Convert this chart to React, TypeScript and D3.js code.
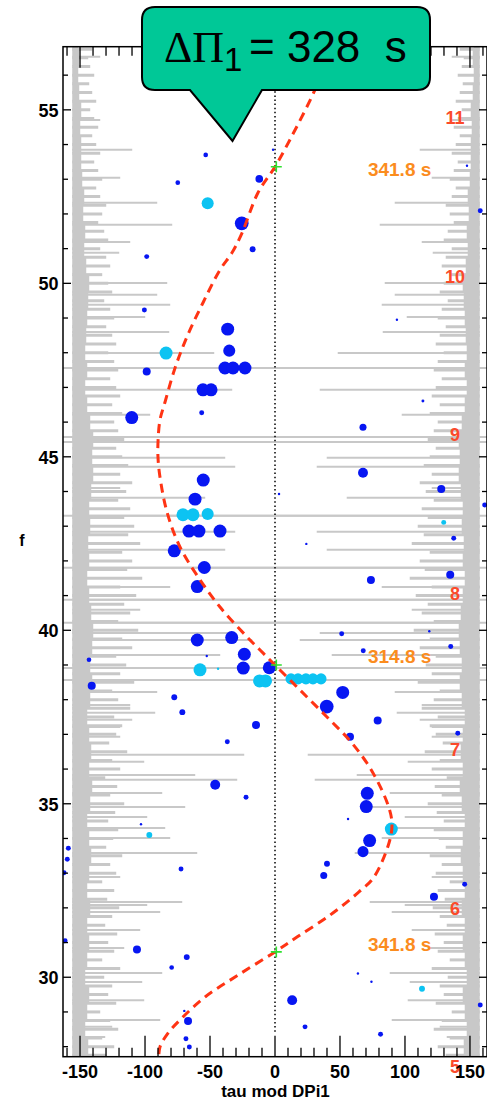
import React, { useEffect, useRef } from 'react'
import * as d3 from 'd3'

const WIDTH = 487
const HEIGHT = 1101
const frame = { left: 63, right: 487, top: 46.7, bottom: 1056.7 }

const tauRange: [number, number] = [-163.1, 163.1]
const freqRange: [number, number] = [27.71, 56.82]

const xMajorTicks = [-150, -100, -50, 0, 50, 100, 150]
const yMajorTicks = [30, 35, 40, 45, 50, 55]

// gray periodogram, drawn inwards from both walls of the frame
const coreStart = 27.5
const coreStep = 0.5
const coreLevel = [
    14, 16, 13, 15, 17, 13, 15, 17, 15, 18,
    15, 17, 19, 17, 15, 18, 20, 17, 19, 17,
    15, 18, 20, 18, 20, 21, 19, 17, 15, 17,
    16, 18, 17, 19, 21, 20, 21, 18, 15, 13,
    15, 13, 14, 15, 16, 17, 14, 12, 13, 11,
    12, 10, 9, 9, 8, 9, 7, 6, 7, 6,
]
const hatchStart = 27.75
const hatchStep = 0.25
const hatchLevel = [
    34, 42, 30, 46, 38, 28, 44, 36, 40, 32,
    48, 30, 42, 36, 45, 33, 40, 47, 35, 42,
    30, 44, 38, 50, 34, 41, 46, 36, 43, 52,
    38, 45, 33, 48, 40, 55, 37, 44, 50,
    42, 58, 46, 40, 62, 48, 54, 44, 60, 50,
    66, 46, 58, 52, 64, 48, 70, 55, 60, 50,
    68, 56, 62, 52, 58, 46, 54, 60, 48, 56,
    50, 44, 52, 46, 42, 50, 40, 48, 44, 38,
    46, 42, 36, 44, 40, 34, 42, 38, 32, 40,
    36, 30, 38, 34, 28, 36, 32, 26, 30, 34,
    28, 24, 30, 26, 22, 28, 24, 20, 26, 22,
    18, 24, 20, 17, 22, 18, 16, 20,
]
// [f, amplitude]
const peaks: [number, number][] = [
    [56.53, 28], [54.71, 28], [53.85, 60], [53.04, 48], [52.32, 85], [51.69, 100],
    [51.19, 58], [50.88, 47], [50.01, 95], [49.67, 85], [49.38, 98], [49.03, 73],
    [48.60, 97], [47.99, 142], [47.56, 420], [46.93, 160], [46.21, 78], [45.57, 420],
    [45.43, 420], [44.97, 153], [44.71, 163], [44.10, 48], [43.82, 133], [43.30, 420],
    [42.84, 163], [42.32, 153], [41.80, 420], [41.25, 98], [40.88, 420], [40.59, 68],
    [40.22, 420], [39.92, 160], [39.72, 180], [39.29, 148], [38.91, 420], [38.57, 420],
    [38.22, 85], [37.85, 58], [37.62, 83], [37.42, 60], [37.21, 48], [36.93, 48],
    [36.41, 172], [36.21, 72], [35.83, 123], [35.69, 165], [35.31, 90], [34.91, 113],
    [34.62, 75], [34.30, 93], [34.01, 98], [33.58, 125], [32.89, 48], [32.17, 110],
    [32.08, 75], [31.88, 88], [31.36, 68], [30.84, 52], [30.12, 90], [29.86, 70],
    [29.34, 72], [28.77, 88], [28.57, 40], [28.28, 33],
]

// model curve [tau, f]
const modelCurve: [number, number][] = [
    [45, 56.9], [30.8, 55.58], [11.5, 54.14], [0, 53.36], [-13.1, 52.61], [-25.4, 51.45],
    [-33.1, 50.88], [-42.3, 50.39], [-55.4, 49.44], [-67.7, 48.46], [-76.9, 47.56],
    [-84.6, 46.58], [-88.5, 46.06], [-90, 45.43], [-90, 44.97], [-88.5, 44.42],
    [-83.1, 43.41], [-73.1, 42.4], [-59.2, 41.54], [-42.3, 40.67], [-21.5, 39.81],
    [-11.5, 39.43], [0, 39.0], [19.2, 38.28], [40, 37.5], [59.2, 36.75], [75.4, 35.89],
    [87.7, 34.88], [90, 34.39], [87.7, 33.87], [76.2, 32.89], [64.6, 32.46], [42.3, 31.79],
    [16.9, 31.16], [0, 30.73], [-28.5, 30.06], [-53.8, 29.43], [-73.1, 28.77],
    [-82.3, 28.39], [-88.5, 27.99], [-89.5, 27.6],
]
const zeroCrossings = [53.36, 39.0, 30.73]
const zeroLineFrom = 28.43

// modes [tau, f, amplitude]
const blueModes: [number, number, number][] = [
    [-53.3, 53.7, 0.75], [-74.8, 52.9, 0.75], [-12.1, 53.01, 2.0], [-1.5, 53.85, 0.2],
    [-25.6, 51.73, 6.5], [-17.2, 50.98, 1.2], [-98.7, 50.77, 0.85], [-100.5, 49.23, 0.85],
    [-36.4, 48.68, 5.8], [-35.2, 48.06, 5.0], [-98.7, 47.46, 2.2], [-38.5, 47.56, 5.8],
    [-32.3, 47.56, 5.8], [-23.1, 47.56, 5.8], [-55.4, 46.93, 5.8], [-49.2, 46.93, 5.8],
    [-56.4, 46.27, 0.85], [-110.2, 46.13, 5.8], [-55.2, 44.33, 5.8], [-61.5, 43.78, 5.8],
    [-66.2, 42.86, 5.8], [-58.5, 42.86, 5.8], [-42.3, 42.86, 5.8], [-77.5, 42.29, 5.8],
    [-54.4, 41.81, 5.8], [-59.8, 41.26, 5.8], [-59.8, 39.72, 5.8], [-33.3, 39.79, 5.8],
    [-23.6, 39.31, 5.8], [-24.4, 38.91, 5.8], [-4.4, 38.92, 5.8], [-52.5, 39.26, 0.2],
    [-143.1, 39.15, 0.75], [-141, 38.4, 2.2], [-77.5, 38.07, 1.2], [-71.3, 37.64, 1.2],
    [51.3, 39.9, 0.85], [67.9, 39.41, 0.85], [52.1, 38.21, 5.8], [39.8, 37.8, 6.5],
    [79, 37.4, 2.2], [-14.6, 37.27, 2.2], [-36.7, 36.79, 0.85], [57.7, 36.93, 2.2],
    [-46, 35.55, 3.4], [-22.3, 35.19, 0.85], [71, 35.3, 5.8], [70.2, 34.92, 5.8],
    [118.7, 39.97, 0.2], [135.2, 39.53, 0.85], [140.6, 37.03, 0.85], [56.2, 34.56, 0.2],
    [72.8, 33.94, 5.8], [67.7, 33.62, 4.2], [40, 33.27, 1.2], [37.5, 32.93, 1.7],
    [145.9, 32.68, 0.85], [122.3, 32.32, 2.2], [63.8, 30.11, 0.2], [74.2, 29.87, 0.2],
    [157.9, 29.2, 0.85], [13.2, 29.34, 3.4], [23.1, 28.57, 0.85], [81.2, 28.36, 0.85],
    [113.8, 46.61, 0.3], [67.7, 45.85, 1.7], [67.7, 44.54, 3.4], [127.9, 44.07, 2.2],
    [161.3, 43.61, 0.85], [24.1, 42.49, 0.2], [137.5, 42.65, 0.85], [73.8, 41.45, 2.2],
    [134.8, 41.6, 2.2], [147.7, 53.39, 0.2], [157.9, 52.09, 0.85], [93.8, 48.95, 0.2],
    [3.1, 43.93, 0.2], [-103.1, 34.41, 0.2], [-159, 33.72, 0.85], [-159.8, 33.4, 0.85],
    [-162.3, 33.01, 0.85], [-72.3, 33.12, 0.85], [-161.5, 31.05, 0.85], [-106.2, 30.8, 2.2],
    [-67.9, 30.58, 1.2], [-79.5, 30.28, 0.75], [-69.8, 29.03, 0.2], [-66.9, 28.74, 2.2],
    [-68.5, 28.23, 0.85], [-65.9, 27.99, 0.85],
]
const cyanModes: [number, number, number][] = [
    [-51.8, 52.31, 5.0], [-83.8, 47.99, 5.8], [-70.8, 43.33, 5.8], [-63.1, 43.33, 5.8],
    [-51.8, 43.35, 5.0], [-57.7, 38.86, 5.8], [-11.9, 38.54, 5.8], [-7.3, 38.54, 5.8],
    [12.3, 38.6, 4.2], [17.7, 38.6, 4.2], [23.8, 38.6, 4.2], [29.2, 38.6, 4.2],
    [35.4, 38.6, 4.2], [-43.8, 38.89, 0.2], [89.5, 34.27, 5.8], [129.8, 43.11, 0.85],
    [113.1, 29.67, 1.2], [-96.7, 34.1, 1.2],
]

const orderLabels = ['11', '10', '9', '8', '7', '6', '5']
const orderFreq = [54.77, 50.2, 45.63, 41.06, 36.55, 31.98, 27.44]
const periodLabels = ['341.8 s', '314.8 s', '341.8 s']
const periodFreq = [53.3, 39.26, 30.96]

const SANS = "'Liberation Sans', Arial, sans-serif"
const SERIF = "'Liberation Serif', 'Times New Roman', serif"

const App = () => {
    const ref = useRef<SVGSVGElement>(null)

    useEffect(() => {
        const svg = d3.select(ref.current)
        svg.selectAll('*').remove()

        const x = d3.scaleLinear().domain(tauRange).range([frame.left, frame.right])
        const y = d3.scaleLinear().domain(freqRange).range([frame.bottom, frame.top])
        const amp = d3.scaleLinear().domain([0, 100]).range([0, 100])
        const r = d3.scaleSqrt().domain([0, 6]).range([0, 6.6])

        const leftBase = x(-156)
        const rightBase = x(157.5)
        const gray = '#c8c8c8'

        svg.append('defs').append('clipPath').attr('id', 'plot')
            .append('rect')
            .attr('x', frame.left).attr('y', frame.top)
            .attr('width', frame.right - frame.left)
            .attr('height', frame.bottom - frame.top)

        const g = svg.append('g').attr('clip-path', 'url(#plot)')

        // periodogram, mirrored on both walls
        const sides = [{ base: leftBase, dir: 1 }, { base: rightBase, dir: -1 }]
        sides.forEach(s => {
            g.append('g').selectAll('rect')
                .data(coreLevel)
                .join('rect')
                .attr('x', d => s.dir > 0 ? s.base : s.base - amp(d))
                .attr('y', (d, i) => y(coreStart + i * coreStep + coreStep / 2))
                .attr('width', d => amp(d))
                .attr('height', (d, i) => y(coreStart + i * coreStep - coreStep / 2) - y(coreStart + i * coreStep + coreStep / 2))
                .attr('fill', gray)

            g.append('g').selectAll('line')
                .data(hatchLevel)
                .join('line')
                .attr('x1', s.base)
                .attr('x2', d => s.base + s.dir * amp(d))
                .attr('y1', (d, i) => y(hatchStart + i * hatchStep))
                .attr('y2', (d, i) => y(hatchStart + i * hatchStep))
                .attr('stroke', gray)
                .attr('stroke-width', 3)

            g.append('g').selectAll('line')
                .data(peaks)
                .join('line')
                .attr('x1', s.base)
                .attr('x2', d => s.base + s.dir * amp(d[1]))
                .attr('y1', d => y(d[0]))
                .attr('y2', d => y(d[0]))
                .attr('stroke', gray)
                .attr('stroke-width', 2)
        })

        // tau = 0 reference
        g.append('line')
            .attr('x1', x(0)).attr('x2', x(0))
            .attr('y1', y(zeroLineFrom)).attr('y2', y(freqRange[1]))
            .attr('stroke', '#000')
            .attr('stroke-width', 1.5)
            .attr('stroke-dasharray', '1.5,2.6')

        g.append('g').selectAll('circle')
            .data(blueModes)
            .join('circle')
            .attr('cx', d => x(d[0]))
            .attr('cy', d => y(d[1]))
            .attr('r', d => r(d[2]))
            .attr('fill', '#0716f2')

        g.append('g').selectAll('circle')
            .data(cyanModes)
            .join('circle')
            .attr('cx', d => x(d[0]))
            .attr('cy', d => y(d[1]))
            .attr('r', d => r(d[2]))
            .attr('fill', '#0cc3f2')

        const line = d3.line<[number, number]>()
            .x(d => x(d[0]))
            .y(d => y(d[1]))
            .curve(d3.curveCatmullRom.alpha(0.5))

        g.append('path')
            .datum(modelCurve)
            .attr('d', line)
            .attr('fill', 'none')
            .attr('stroke', '#ff3414')
            .attr('stroke-width', 3)
            .attr('stroke-dasharray', '9,6')

        g.append('g').selectAll('path')
            .data(zeroCrossings)
            .join('path')
            .attr('d', d => `M${x(1) - 5.5},${y(d)}h11M${x(1)},${y(d) - 5.5}v11`)
            .attr('stroke', '#2fe02f')
            .attr('stroke-width', 1.6)

        // order numbers and period labels
        svg.append('g').selectAll('text')
            .data(orderLabels)
            .join('text')
            .attr('x', x(138.5))
            .attr('y', (d, i) => y(orderFreq[i]) + 6.5)
            .attr('text-anchor', 'middle')
            .attr('font-family', SANS)
            .attr('font-weight', 'bold')
            .attr('font-size', 18)
            .attr('fill', '#fb4a2a')
            .text(d => d)

        svg.append('g').selectAll('text')
            .data(periodLabels)
            .join('text')
            .attr('x', x(71.5))
            .attr('y', (d, i) => y(periodFreq[i]) + 6.8)
            .attr('font-family', SANS)
            .attr('font-weight', 'bold')
            .attr('font-size', 19)
            .attr('fill', '#fb8c1e')
            .text(d => d)

        // frame and ticks
        svg.append('rect')
            .attr('x', frame.left).attr('y', frame.top)
            .attr('width', frame.right - frame.left)
            .attr('height', frame.bottom - frame.top)
            .attr('fill', 'none')
            .attr('stroke', '#000')
            .attr('stroke-width', 1.5)

        const xTicks = d3.range(-160, 161, 10)
        const ticks = svg.append('g').attr('stroke', '#000').attr('stroke-width', 1.3)
        ticks.selectAll('.xb')
            .data(xTicks)
            .join('line')
            .attr('x1', d => x(d)).attr('x2', d => x(d))
            .attr('y1', frame.bottom)
            .attr('y2', d => frame.bottom - (d % 50 === 0 ? 21 : 9))
        ticks.selectAll('.xt')
            .data(xTicks)
            .join('line')
            .attr('x1', d => x(d)).attr('x2', d => x(d))
            .attr('y1', frame.top)
            .attr('y2', d => frame.top + (d % 50 === 0 ? 21 : 9))

        const yTicks = d3.range(28, 57, 1)
        ticks.selectAll('.yl')
            .data(yTicks)
            .join('line')
            .attr('x1', frame.left)
            .attr('x2', d => frame.left + (d % 5 === 0 ? 8 : 5))
            .attr('y1', d => y(d)).attr('y2', d => y(d))
        ticks.selectAll('.yr')
            .data(yTicks)
            .join('line')
            .attr('x1', frame.right)
            .attr('x2', d => frame.right - (d % 5 === 0 ? 8 : 5))
            .attr('y1', d => y(d)).attr('y2', d => y(d))

        svg.append('g').selectAll('text')
            .data(xMajorTicks)
            .join('text')
            .attr('x', d => x(d))
            .attr('y', 1078)
            .attr('text-anchor', 'middle')
            .attr('font-family', SANS)
            .attr('font-weight', 'bold')
            .attr('font-size', 18)
            .text(d => d)

        svg.append('g').selectAll('text')
            .data(yMajorTicks)
            .join('text')
            .attr('x', 58.5)
            .attr('y', d => y(d) + 6.8)
            .attr('text-anchor', 'end')
            .attr('font-family', SANS)
            .attr('font-weight', 'bold')
            .attr('font-size', 18)
            .text(d => d)

        svg.append('text')
            .attr('x', (frame.left + frame.right) / 2 + 0.5)
            .attr('y', 1097)
            .attr('text-anchor', 'middle')
            .attr('font-family', SANS)
            .attr('font-weight', 'bold')
            .attr('font-size', 17)
            .text('tau mod DPi1')

        svg.append('text')
            .attr('x', 22)
            .attr('y', 546)
            .attr('text-anchor', 'middle')
            .attr('font-family', SANS)
            .attr('font-weight', 'bold')
            .attr('font-size', 16)
            .text('f')

        // callout
        const callout = svg.append('g')
        callout.append('path')
            .attr('d', 'M155,7H417Q430,7 430,20V77Q430,90 417,90H262L232.5,141L190,90H155Q142,90 142,77V20Q142,7 155,7Z')
            .attr('fill', '#00c897')
            .attr('stroke', '#000')
            .attr('stroke-width', 2)
        callout.append('text')
            .attr('x', 164).attr('y', 62)
            .attr('font-family', SERIF)
            .attr('font-size', 44)
            .text('ΔΠ')
        callout.append('text')
            .attr('x', 224).attr('y', 71)
            .attr('font-family', SANS)
            .attr('font-size', 33)
            .text('1')
        callout.append('text')
            .attr('x', 249).attr('y', 62)
            .attr('font-family', SANS)
            .attr('font-size', 44)
            .attr('xml:space', 'preserve')
            .style('white-space', 'pre')
            .text('= 328  s')
    }, [])

    return (
        <svg
            ref={ref}
            width={WIDTH}
            height={HEIGHT}
            style={{ position: 'absolute', left: 0, top: 0, background: '#fff' }}
        />
    )
}

export default App
